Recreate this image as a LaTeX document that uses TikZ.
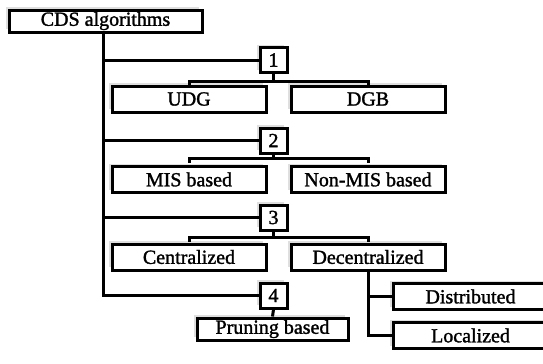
\documentclass[tikz,border=0pt]{standalone}
\usepackage{fontspec}
\setmainfont{Liberation Serif}[FakeBold=1.5]
\usetikzlibrary{shadows}
\begin{document}
\begin{tikzpicture}[x=0.75pt,y=-0.75pt,
  line width=2.25pt,
  box/.style={draw, fill=white, rectangle, inner sep=0pt,
    font=\fontsize{15pt}{16pt}\selectfont,
    drop shadow={shadow xshift=-2.25pt, shadow yshift=2.25pt, fill=gray!25, opacity=1}},
  topbox/.style={box, minimum width=144.75pt, minimum height=16.5pt},
  numbox/.style={box, minimum width=20.25pt, minimum height=18.75pt},
  leaf/.style={box, minimum width=115.5pt, minimum height=19.5pt},
  prunebox/.style={box, minimum width=113.25pt, minimum height=16.5pt},
  sidebox/.style={box, minimum width=116.25pt, minimum height=19.5pt},
  link/.style={line width=2.25pt}]
\useasboundingbox (0,0) rectangle (543,364);

% top-level node and the four numbered categories
\node[topbox] (cds) at (105.5,21) {CDS algorithms};
\node[numbox] (n1) at (273.5,60) {1};
\node[numbox] (n2) at (273.5,140.5) {2};
\node[numbox] (n3) at (273.5,217.5) {3};
\node[numbox] (n4) at (273.5,295.5) {4};

% category leaves
\node[leaf] (udg) at (189,99) {UDG};
\node[leaf] (dgb) at (368,99) {DGB};
\node[leaf] (mis) at (189,179.5) {MIS based};
\node[leaf] (nonmis) at (368,179.5) {Non-MIS based};
\node[leaf] (cent) at (189,257) {Centralized};
\node[leaf] (decent) at (368,257) {Decentralized};
\node[prunebox] (prune) at (272.5,329) {Pruning based};
\node[sidebox] (distr) at (470.5,296.5) {Distributed};
\node[sidebox] (local) at (470.5,335.5) {Localized};

% trunk from the root to each category
\coordinate (trunk) at (103,0);
\draw[link] (cds.south -| trunk) |- (n4.west);
\draw[link] (trunk |- n1) -- (n1.west);
\draw[link] (trunk |- n2) -- (n2.west);
\draw[link] (trunk |- n3) -- (n3.west);

% brackets under categories 1-3
\foreach \n/\l/\r/\y in {n1/udg/dgb/81, n2/mis/nonmis/158, n3/cent/decent/237}{
  \coordinate (by) at (0,\y);
  \coordinate (ty) at (0,\y+4.5);
  \draw[link] (\n.south) -- (\n.south |- by);
  \draw[link] (\l.north |- ty) -- (\l.north |- by) -- (\r.north |- by) -- (\r.north |- ty);
}

% category 4
\draw[link] (n4.south) -- (prune.north);

% decentralized splits into distributed and localized
\draw[link] (decent.south) |- (local.west);
\draw[link] (decent.south |- distr.west) -- (distr.west);
\end{tikzpicture}
\end{document}
